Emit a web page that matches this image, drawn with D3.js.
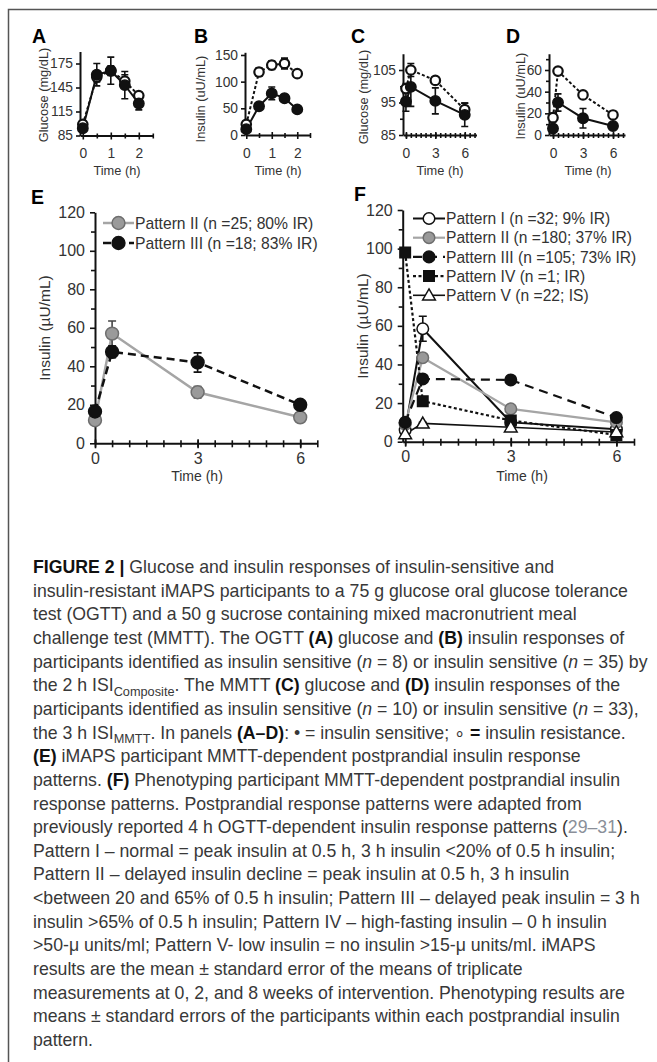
<!DOCTYPE html>
<html>
<head>
<meta charset="utf-8">
<script src="https://cdn.jsdelivr.net/npm/d3@7"></script>
<style>
  body { margin: 0; background: #fff; }
  svg { display: block; }
  text { font-family: "Liberation Sans", Arial, Helvetica, sans-serif; fill: #333; }
</style>
</head>
<body>
<svg id="fig" width="657" height="1062"></svg>
<script>
// ---- OGTT, panels A and B (filled = insulin sensitive, open = insulin resistant)
const ogttTime = [0, 0.5, 1, 1.5, 2];
const ogttGlucoseIS = [94, 161, 166, 148, 125];
const ogttGlucoseIS_se = [4, 14, 17, 17, 8];
const ogttGlucoseIR = [99, 158, 166, 153, 135];
const ogttGlucoseIR_se = [3, 6, 6, 8, 4];
const ogttInsulinIS = [11, 54, 78, 69, 48];
const ogttInsulinIS_se = [5, 5, 12, 7, 3];
const ogttInsulinIR = [20, 118, 131, 134, 115];
const ogttInsulinIR_se = [6, 8, 8, 10, 6];

// ---- MMTT, panels C and D
const mmttTime = [0, 0.5, 3, 6];
const mmttGlucoseIS = [95.3, 99.8, 95.5, 91.2];
const mmttGlucoseIS_se = [3, 6, 4, 3.6];
const mmttGlucoseIR = [99.3, 105, 101.8, 92.8];
const mmttGlucoseIR_se = [1.5, 2, 1, 2];
const mmttInsulinIS = [6, 30, 15.5, 8.3];
const mmttInsulinIS_se = [3, 8, 9, 2];
const mmttInsulinIR = [16, 59, 37, 18.5];
const mmttInsulinIR_se = [4, 2, 1.5, 2];

// ---- Panel E: iMAPS insulin response patterns
const eLabels = ["Pattern II (n =25; 80% IR)", "Pattern III (n =18; 83% IR)"];
const ePattern2 = [12, 57, 26.5, 13.5];
const ePattern2_se = [2, 6.5, 3, 1.5];
const ePattern3 = [16.5, 47.5, 42, 20];
const ePattern3_se = [2, 3, 5, 2];

// ---- Panel F: phenotyping insulin response patterns
const fLabels = [
  "Pattern I (n =32; 9% IR)",
  "Pattern II (n =180; 37% IR)",
  "Pattern III (n =105; 73% IR)",
  "Pattern IV (n =1; IR)",
  "Pattern V (n =22; IS)"
];
const fPattern1 = [6, 58.5, 10, 6.5];
const fPattern1_se = [1, 6.5, 1, 1];
const fPattern2 = [9, 43.5, 17, 10];
const fPattern2_se = [0.5, 1.5, 1, 0.5];
const fPattern3 = [10, 32.5, 32, 12.5];
const fPattern3_se = [0.5, 1.5, 1, 0.5];
const fPattern4 = [98, 21, 11, 3.5];
const fPattern5 = [4, 9.5, 7.5, 5];
const fPattern5_se = [0.5, 0.5, 0.5, 0.5];

// ---- Tick values
const ticksA = [85, 115, 145, 175];
const ticksB = [0, 50, 100, 150];
const ticksC = [85, 95, 105];
const ticksD = [0, 20, 40, 60];
const ticksEF = [0, 20, 40, 60, 80, 100, 120];
const ticksOgttTime = [0, 1, 2];
const ticksMmttTime = [0, 3, 6];

const svg = d3.select("#fig");
svg.append("rect").attr("width", 657).attr("height", 1062).attr("fill", "#fff");

// open frame around the figure
svg.append("path")
  .attr("d", d3.line()([[8.5, 1062], [8.5, 9.5], [657, 9.5]]))
  .attr("fill", "none").attr("stroke", "#555").attr("stroke-width", 1.5);

const symbolFor = { circle: d3.symbolCircle, square: d3.symbolSquare, triangle: d3.symbolTriangle };

function marker(g, s, cx, cy) {
  g.append("path")
    .attr("d", d3.symbol().type(symbolFor[s.shape]).size(s.size)())
    .attr("transform", `translate(${cx},${cy + (s.shape === "triangle" ? 1 : 0)})`)
    .attr("fill", s.fill).attr("stroke", s.stroke).attr("stroke-width", s.markerStroke || 1.5);
}

const fmt = d3.format("~g");

function panel(o) {
  const g = svg.append("g");
  const x = d3.scaleLinear().domain(o.xDomain).range(o.xRange);
  const y = d3.scaleLinear().domain(o.yDomain).range(o.yRange);
  const x0 = o.xRange[0], y0 = o.yRange[0];

  // minor ticks
  const yMinor = g.append("g").attr("transform", `translate(${x0},0)`)
    .call(d3.axisLeft(y).tickValues(o.yMinor || []).tickSize(o.minorLen).tickSizeOuter(0).tickFormat(""));
  yMinor.select(".domain").remove();
  const xMinor = g.append("g").attr("transform", `translate(0,${y0})`)
    .call(d3.axisBottom(x).tickValues(o.xMinor || []).tickSize(o.minorLen).tickSizeOuter(0).tickFormat(""));
  xMinor.select(".domain").remove();
  xMinor.selectAll(".tick line").attr("y1", -o.minorLen + 1);

  // y axis
  const ya = g.append("g").attr("transform", `translate(${x0},0)`)
    .call(d3.axisLeft(y).tickValues(o.yTicks).tickFormat(fmt).tickSize(o.majorLen).tickSizeOuter(0).tickPadding(o.tickPad));
  // x axis
  const xa = g.append("g").attr("transform", `translate(0,${y0})`)
    .call(d3.axisBottom(x).tickValues(o.xTicks).tickFormat(fmt).tickSize(o.majorLen).tickSizeOuter(0).tickPadding(o.xTickPad));
  xa.selectAll(".tick line").attr("y1", -o.majorLen + 1);

  [ya, xa, yMinor, xMinor].forEach(a => {
    a.attr("font-family", null).attr("font-size", null);
    a.selectAll("path.domain").attr("stroke", "#111").attr("stroke-width", 2);
    a.selectAll(".tick line").attr("stroke", "#111").attr("stroke-width", 1.6);
    a.selectAll(".tick text").attr("font-size", o.tickFont).attr("fill", "#333");
  });

  // panel letter
  g.append("text").attr("x", o.letterPos[0]).attr("y", o.letterPos[1])
    .attr("font-size", 19.5).attr("font-weight", "bold").style("fill", "#000").text(o.letter);

  // axis titles
  g.append("text").attr("transform", `translate(${o.yTitlePos[0]},${o.yTitlePos[1]}) rotate(-90)`)
    .attr("text-anchor", "middle").attr("dy", "0.35em").attr("font-size", o.titleFont).text(o.yTitle);
  g.append("text").attr("x", o.xTitlePos[0]).attr("y", o.xTitlePos[1])
    .attr("text-anchor", "middle").attr("dy", "0.35em").attr("font-size", o.xTitleFont || o.titleFont).text("Time (h)");

  const line = d3.line().x((d, i) => x(o.time[i])).y(d => y(d));

  // lines
  o.series.forEach(s => {
    g.append("path").attr("d", line(s.values)).attr("fill", "none")
      .attr("stroke", s.lineColor).attr("stroke-width", s.lineWidth)
      .attr("stroke-dasharray", s.dash || null);
  });
  // error bars
  o.series.forEach(s => {
    if (!s.se) return;
    s.values.forEach((v, i) => {
      const cx = x(o.time[i]);
      const yt = y(v + s.se[i]), yb = y(v - s.se[i]);
      const c = o.cap;
      g.append("path")
        .attr("d", `M${cx},${yt}V${yb}M${cx - c},${yt}H${cx + c}M${cx - c},${yb}H${cx + c}`)
        .attr("stroke", s.errColor || "#111").attr("stroke-width", 1.6).attr("fill", "none");
    });
  });
  // markers
  o.series.forEach(s => {
    s.values.forEach((v, i) => marker(g, s, x(o.time[i]), y(v)));
  });

  // legend
  if (o.legend) {
    const L = o.legend;
    o.series.forEach((s, k) => {
      const ly = L.y + k * L.step;
      g.append("path").attr("d", `M${L.x},${ly}H${L.x + L.len}`)
        .attr("stroke", s.lineColor).attr("stroke-width", s.lineWidth)
        .attr("stroke-dasharray", s.dash || null).attr("fill", "none");
      marker(g, s, L.x + L.len / 2, ly);
      g.append("text").attr("x", L.x + L.len + 1).attr("y", ly).attr("dy", "0.36em")
        .attr("font-size", L.font).text(s.label);
    });
  }
  return g;
}

const halfHours = d3.range(0, 7.01, 0.5);
const isStyle = { shape: "circle", size: 85, fill: "#111", stroke: "#111", lineColor: "#111", lineWidth: 2 };
const irStyle = { shape: "circle", size: 70, fill: "#fff", stroke: "#111", markerStroke: 2.2, lineColor: "#111", lineWidth: 2, dash: "3,2.2" };

const small = { majorLen: 4, minorLen: 3, tickPad: 3, xTickPad: 9, tickFont: 13.8, titleFont: 12.8, cap: 3.5 };

// A
panel(Object.assign({}, small, {
  letter: "A", letterPos: [32, 43],
  xDomain: [-0.1, 2.5], xRange: [80, 152.8], yDomain: [85, 190], yRange: [135.5, 51.5],
  yTicks: ticksA, xTicks: ticksOgttTime, xMinor: [0.5, 1.5, 2.5],
  yTitle: "Glucose (mg/dL)", yTitlePos: [44, 95], xTitlePos: [117, 171],
  time: ogttTime,
  series: [
    Object.assign({}, irStyle, { values: ogttGlucoseIR, se: ogttGlucoseIR_se }),
    Object.assign({}, isStyle, { values: ogttGlucoseIS, se: ogttGlucoseIS_se })
  ]
}));

// B
panel(Object.assign({}, small, {
  letter: "B", letterPos: [194, 43],
  xDomain: [-0.05, 2.5], xRange: [245, 310], yDomain: [0, 155], yRange: [135, 52.3],
  yTicks: ticksB, xTicks: ticksOgttTime, xMinor: [0.5, 1.5, 2.5],
  yTitle: "Insulin (uU/mL)", yTitlePos: [201, 99], xTitlePos: [278, 171],
  time: ogttTime,
  series: [
    Object.assign({}, irStyle, { values: ogttInsulinIR, se: ogttInsulinIR_se }),
    Object.assign({}, isStyle, { values: ogttInsulinIS, se: ogttInsulinIS_se })
  ]
}));

// C
panel(Object.assign({}, small, {
  letter: "C", letterPos: [351, 43],
  xDomain: [-0.3, 7.2], xRange: [403, 476.5], yDomain: [85, 110], yRange: [135, 53.75],
  yTicks: ticksC, yMinor: [90, 100], xTicks: ticksMmttTime, xMinor: halfHours,
  yTitle: "Glucose (mg/dL)", yTitlePos: [364, 97], xTitlePos: [440, 171],
  time: mmttTime,
  series: [
    Object.assign({}, irStyle, { values: mmttGlucoseIR, se: mmttGlucoseIR_se }),
    Object.assign({}, isStyle, { values: mmttGlucoseIS, se: mmttGlucoseIS_se })
  ]
}));

// D
panel(Object.assign({}, small, {
  letter: "D", letterPos: [506, 43],
  xDomain: [-0.4, 7.2], xRange: [549, 625], yDomain: [0, 75], yRange: [135, 53.75],
  yTicks: ticksD, yMinor: [10, 30, 50, 70], xTicks: ticksMmttTime, xMinor: halfHours,
  yTitle: "Insulin (uU/mL)", yTitlePos: [521, 96], xTitlePos: [588, 171],
  time: mmttTime,
  series: [
    Object.assign({}, irStyle, { values: mmttInsulinIR, se: mmttInsulinIR_se }),
    Object.assign({}, isStyle, { values: mmttInsulinIS, se: mmttInsulinIS_se })
  ]
}));

const large = { majorLen: 5, minorLen: 4, tickPad: 5, xTickPad: 4, tickFont: 16, titleFont: 15.5, xTitleFont: 14, cap: 4 };
const eHalf = d3.range(0, 6.51, 0.5);

// E
panel(Object.assign({}, large, {
  letter: "E", letterPos: [31, 204],
  xDomain: [0, 6.5], xRange: [95, 317.3], yDomain: [0, 120], yRange: [443.3, 212.3],
  yTicks: ticksEF, yMinor: d3.range(10, 120, 20), xTicks: ticksMmttTime, xMinor: eHalf,
  yTitle: "Insulin (\u00b5U/mL)", yTitlePos: [45, 328], xTitlePos: [197, 476],
  time: mmttTime,
  legend: { x: 103, y: 223, step: 20, len: 31, font: 15.7 },
  series: [
    { label: eLabels[0], values: ePattern2, se: ePattern2_se, shape: "circle", size: 130, fill: "#9a9a9a", stroke: "#6e6e6e", lineColor: "#a5a5a5", lineWidth: 2.5, errColor: "#444" },
    { label: eLabels[1], values: ePattern3, se: ePattern3_se, shape: "circle", size: 130, fill: "#111", stroke: "#111", lineColor: "#111", lineWidth: 2.5, dash: "8,5" }
  ]
}));

// F
panel(Object.assign({}, large, {
  letter: "F", letterPos: [354, 201],
  xDomain: [-0.07, 6.5], xRange: [402.7, 634], yDomain: [0, 120], yRange: [441.7, 210],
  yTicks: ticksEF, yMinor: d3.range(10, 120, 20), xTicks: ticksMmttTime, xMinor: eHalf,
  yTitle: "Insulin (\u00b5U/mL)", yTitlePos: [363, 326], xTitlePos: [522, 476],
  time: mmttTime,
  legend: { x: 413, y: 218.5, step: 19.2, len: 32, font: 15.6 },
  series: [
    { label: fLabels[0], values: fPattern1, se: fPattern1_se, shape: "circle", size: 105, fill: "#fff", stroke: "#111", lineColor: "#111", lineWidth: 2 },
    { label: fLabels[1], values: fPattern2, se: fPattern2_se, shape: "circle", size: 105, fill: "#999", stroke: "#6e6e6e", lineColor: "#a5a5a5", lineWidth: 2.2, errColor: "#444" },
    { label: fLabels[2], values: fPattern3, se: fPattern3_se, shape: "circle", size: 105, fill: "#111", stroke: "#111", lineColor: "#111", lineWidth: 2.2, dash: "9,6" },
    { label: fLabels[3], values: fPattern4, shape: "square", size: 110, fill: "#111", stroke: "#111", lineColor: "#111", lineWidth: 2.2, dash: "3,2.5" },
    { label: fLabels[4], values: fPattern5, se: fPattern5_se, shape: "triangle", size: 70, fill: "#fff", stroke: "#111", lineColor: "#111", lineWidth: 1.6 }
  ]
}));

// ---- Caption
const captionLines = [
  [["FIGURE 2 |", "b"], [" Glucose and insulin responses of insulin-sensitive and"]],
  [["insulin-resistant iMAPS participants to a 75 g glucose oral glucose tolerance"]],
  [["test (OGTT) and a 50 g sucrose containing mixed macronutrient meal"]],
  [["challenge test (MMTT). The OGTT "], ["(A)", "b"], [" glucose and "], ["(B)", "b"], [" insulin responses of"]],
  [["participants identified as insulin sensitive ("], ["n", "i"], [" = 8) or insulin sensitive ("], ["n", "i"], [" = 35) by"]],
  [["the 2 h ISI"], ["Composite", "sub"], [". The MMTT "], ["(C)", "b"], [" glucose and "], ["(D)", "b"], [" insulin responses of the"]],
  [["participants identified as insulin sensitive ("], ["n", "i"], [" = 10) or insulin sensitive ("], ["n", "i"], [" = 33),"]],
  [["the 3 h ISI"], ["MMTT", "sub"], [". In panels "], ["(A\u2013D)", "b"], [": \u2022 = insulin sensitive; \u2218 "], ["=", "b"], [" insulin resistance."]],
  [["(E)", "b"], [" iMAPS participant MMTT-dependent postprandial insulin response"]],
  [["patterns. "], ["(F)", "b"], [" Phenotyping participant MMTT-dependent postprandial insulin"]],
  [["response patterns. Postprandial response patterns were adapted from"]],
  [["previously reported 4 h OGTT-dependent insulin response patterns ("], ["29\u201331", "ref"], [")."]],
  [["Pattern I \u2013 normal = peak insulin at 0.5 h, 3 h insulin <20% of 0.5 h insulin;"]],
  [["Pattern II \u2013 delayed insulin decline = peak insulin at 0.5 h, 3 h insulin"]],
  [["<between 20 and 65% of 0.5 h insulin; Pattern III \u2013 delayed peak insulin = 3 h"]],
  [["insulin >65% of 0.5 h insulin; Pattern IV \u2013 high-fasting insulin \u2013 0 h insulin"]],
  [[">50-\u03bc units/ml; Pattern V- low insulin = no insulin >15-\u03bc units/ml. iMAPS"]],
  [["results are the mean \u00b1 standard error of the means of triplicate"]],
  [["measurements at 0, 2, and 8 weeks of intervention. Phenotyping results are"]],
  [["means \u00b1 standard errors of the participants within each postprandial insulin"]],
  [["pattern."]]
];

const cap = svg.append("g");
const capTop = 573, capStep = 23.65, capFont = 17.7;
captionLines.forEach((segs, li) => {
  const t = cap.append("text").attr("x", 33).attr("y", capTop + li * capStep)
    .attr("font-size", capFont).style("fill", "#383838");
  let shift = 0;
  segs.forEach(([str, st]) => {
    const ts = t.append("tspan").text(str);
    if (shift) { ts.attr("dy", -shift); shift = 0; }
    if (st === "b") ts.attr("font-weight", "bold").style("fill", "#111");
    if (st === "i") ts.attr("font-style", "italic");
    if (st === "ref") ts.style("fill", "#8a8f99");
    if (st === "sub") {
      shift = 4.5;
      ts.attr("font-size", capFont * 0.72).attr("dy", shift);
    }
  });
});
</script>
</body>
</html>
